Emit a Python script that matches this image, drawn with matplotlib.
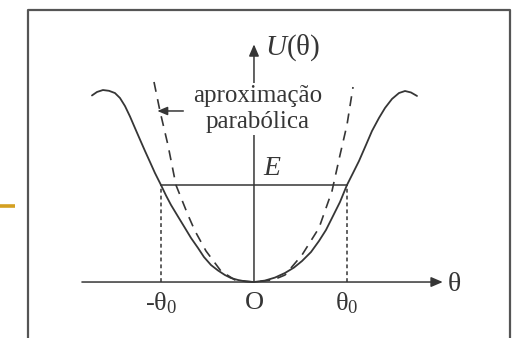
import numpy as np
import matplotlib.pyplot as plt

plt.rcParams['mathtext.fontset'] = 'custom'
plt.rcParams['mathtext.rm'] = 'Liberation Serif'
plt.rcParams['mathtext.it'] = 'Liberation Serif:italic'
plt.rcParams['font.family'] = 'Liberation Serif'

# potencial U(theta): curva desenhada (theta em unidades de theta0, U em unidades de E)
theta_curve = [-1.742, -1.688, -1.624, -1.559, -1.495, -1.441, -1.387, -1.333,
               -1.280, -1.226, -1.172, -1.118, -1.065, -1.0, -0.946, -0.892,
               -0.817, -0.742, -0.677, -0.602, -0.538, -0.462, -0.387, -0.312,
               -0.247, -0.172, -0.086, 0.0,
               0.118, 0.226, 0.333, 0.430, 0.516, 0.613, 0.699, 0.774,
               0.839, 0.925, 1.0, 1.065, 1.129, 1.204, 1.269, 1.344,
               1.409, 1.484, 1.559, 1.624, 1.688, 1.753]
u_curve = [1.923, 1.959, 1.979, 1.971, 1.948, 1.897, 1.814, 1.706,
           1.588, 1.469, 1.351, 1.237, 1.124, 1.0, 0.892, 0.794,
           0.675, 0.557, 0.454, 0.351, 0.258, 0.175, 0.119, 0.072,
           0.041, 0.021, 0.005, 0.0,
           0.015, 0.046, 0.093, 0.149, 0.216, 0.309, 0.423, 0.536,
           0.660, 0.825, 1.0, 1.124, 1.247, 1.412, 1.557, 1.691,
           1.794, 1.887, 1.948, 1.969, 1.954, 1.918]

# aproximacao parabolica (tracejada)
theta_parab = [-1.075, -1.011, -0.925, -0.839, -0.710, -0.634, -0.516, -0.355,
               -0.204, 0.0, 0.204, 0.333, 0.516, 0.699, 0.839, 0.925, 1.0, 1.065]
u_parab = [2.062, 1.763, 1.412, 1.0, 0.691, 0.526, 0.320, 0.113,
           0.021, 0.0, 0.021, 0.072, 0.278, 0.557, 0.938, 1.309, 1.619, 2.010]

energy = 1.0
theta0 = 1.0
tick_pos = [-theta0, 0.0, theta0]
tick_labels = ['-$\\mathrm{\\theta_0}$', 'O', '$\\mathrm{\\theta_0}$']

ink = '#363636'

fig = plt.figure(figsize=(5.18, 3.38), dpi=100)
ax = fig.add_axes([0, 0, 1, 1])
ax.set_xlim(-2.731, 2.839)
ax.set_ylim(-0.577, 2.907)
ax.axis('off')

# moldura
ax.plot([0.054, 0.054, 0.985, 0.985], [-0.05, 0.970, 0.970, -0.05],
        color='#555555', lw=1.6, transform=ax.transAxes, clip_on=False)
ax.plot([0.0, 0.029], [1 - 206 / 338, 1 - 206 / 338], color='#d4a021', lw=2.6,
        transform=ax.transAxes, solid_capstyle='butt')

# eixos com setas
ax.annotate('', xy=(2.03, 0), xytext=(-1.85, 0),
            arrowprops=dict(arrowstyle='-|>,head_length=0.7,head_width=0.3',
                            color=ink, lw=1.1, shrinkA=0, shrinkB=0))
ax.annotate('', xy=(0, 2.45), xytext=(0, 0),
            arrowprops=dict(arrowstyle='-|>,head_length=0.7,head_width=0.3',
                            color=ink, lw=1.1, shrinkA=0, shrinkB=0))

ax.plot(theta_curve, u_curve, color=ink, lw=1.3, solid_capstyle='round',
        solid_joinstyle='round')
ax.plot(theta_parab, u_parab, color=ink, lw=1.2, dashes=(6, 4.5))

# nivel de energia e pontos de retorno
ax.plot([-theta0, theta0], [energy, energy], color=ink, lw=1.1)
for t in (-theta0, theta0):
    ax.plot([t, t], [0, energy], color=ink, lw=1.1, dashes=(2.5, 2))

ax.text(0.04, 1.784, 'aproximação\nparabólica', ha='center', va='center',
        fontsize=18, color=ink, linespacing=1.25,
        bbox=dict(facecolor='white', edgecolor='none', pad=1))
ax.annotate('', xy=(-1.04, 1.763), xytext=(-0.76, 1.763),
            arrowprops=dict(arrowstyle='-|>,head_length=0.6,head_width=0.25',
                            color=ink, lw=1.1, shrinkA=0, shrinkB=0))

ax.text(0.12, 2.412, '$U$(θ)', ha='left', va='center', fontsize=21, color=ink)
ax.text(0.10, 1.175, '$E$', ha='left', va='center', fontsize=20, color=ink)
ax.text(2.08, -0.03, 'θ', ha='left', va='center', fontsize=20, color=ink)

for pos, lab in zip(tick_pos, tick_labels):
    ax.text(pos, -0.22, lab, ha='center', va='center', fontsize=19, color=ink)

fig.savefig('out.png', dpi=100)
